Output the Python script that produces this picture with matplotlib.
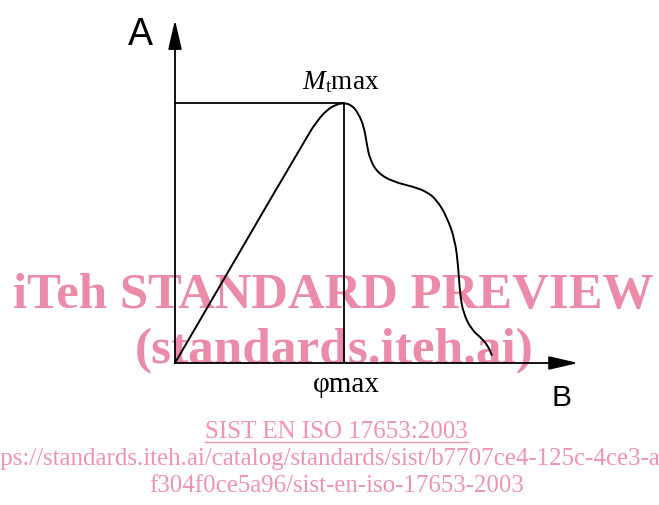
import matplotlib
matplotlib.use("Agg")
import matplotlib.pyplot as plt
from matplotlib.path import Path
from matplotlib.patches import PathPatch

# ---- data (diagram units: phi_max = 1, Mt_max = 1) ----
curve_x = [0.0, 0.779, 0.838, 0.897, 0.956, 1.0, 1.046, 1.085, 1.118, 1.134, 1.154,
           1.203, 1.292, 1.410, 1.489, 1.549, 1.608, 1.657, 1.676, 1.686, 1.706,
           1.756, 1.815, 1.854, 1.874]
curve_y = [0.0, 0.870, 0.928, 0.973, 0.995, 1.0, 0.992, 0.960, 0.909, 0.845, 0.781,
           0.729, 0.697, 0.678, 0.659, 0.627, 0.563, 0.473, 0.371, 0.268, 0.191,
           0.127, 0.095, 0.063, 0.031]
phi_max = 1.0
mt_max = 1.0
x_axis_end = 2.385
y_axis_end = 1.319

label_y = "A"
label_x = "B"
label_peak = r"$M_{\mathrm{t}}$max"
label_phi = "\u03c6max"
wm_title = "iTeh STANDARD PREVIEW"
wm_site = "(standards.iteh.ai)"
wm_std = "SIST EN ISO 17653:2003"
wm_url1 = "https://standards.iteh.ai/catalog/standards/sist/b7707ce4-125c-4ce3-aa"
wm_url2 = "f304f0ce5a96/sist-en-iso-17653-2003"

plt.rcParams["mathtext.fontset"] = "custom"
plt.rcParams["mathtext.rm"] = "Liberation Serif"
plt.rcParams["mathtext.it"] = "Liberation Serif:italic"

W, H = 659, 505
fig = plt.figure(figsize=(W / 100, H / 100), dpi=100)
ax = fig.add_axes([0, 0, 1, 1])
ox, oy, ux, uy = 175, 363, 169.0, 260.0
ax.set_xlim(-ox / ux, (W - ox) / ux)
ax.set_ylim(-(H - oy) / uy, oy / uy)
ax.axis("off")
renderer = fig.canvas.get_renderer()


def X(px):
    return (px - ox) / ux


def Y(py):
    return (oy - py) / uy


def fit_text(s, left, right, base, **kw):
    t = ax.text(X(left), Y(base), s, ha="left", va="baseline", **kw)
    bb = t.get_window_extent(renderer)
    t.set_fontsize(t.get_fontsize() * (right - left) / bb.width)
    return t


pink = "#EC8BA8"
pink2 = "#EF93B0"

# watermark
fit_text(wm_title, 13, 653, 308, family="Liberation Serif", weight="bold",
         color=pink, fontsize=38, zorder=1)
fit_text(wm_site, 135, 534, 363, family="Liberation Serif", weight="bold",
         color=pink, fontsize=38, zorder=1)
fit_text(wm_std, 205, 468, 438, family="Liberation Serif", color=pink2,
         fontsize=18, zorder=1)
ax.plot([X(205), X(468)], [Y(442), Y(442)], color=pink2, lw=1.0, zorder=1)
t5 = fit_text(wm_url2, 149, 523, 492, family="Liberation Serif", color=pink2,
              fontsize=18, zorder=1)
fs = t5.get_fontsize()
tmp = ax.text(0, 0, "htt", family="Liberation Serif", fontsize=fs)
wpx = tmp.get_window_extent(renderer).width
tmp.remove()
ax.text(X(-wpx + 1), Y(465), wm_url1, ha="left", va="baseline",
        family="Liberation Serif", color=pink2, fontsize=fs, zorder=1)

# axes with arrows
arrow_kw = dict(arrowstyle="-|>,head_length=1.8,head_width=0.42",
                mutation_scale=10, lw=1.3, color="black", shrinkA=0, shrinkB=0)
ax.annotate("", xy=(0, y_axis_end), xytext=(0, 0), arrowprops=arrow_kw, zorder=3)
ax.annotate("", xy=(x_axis_end, 0), xytext=(0, 0), arrowprops=arrow_kw, zorder=3)

# guide lines
ax.plot([0, phi_max], [mt_max, mt_max], color="black", lw=1.3, zorder=3)
ax.plot([phi_max, phi_max], [mt_max, 0], color="black", lw=1.3, zorder=3)

# curve: smooth quadratic path using the read points as control points
pts = list(zip(curve_x, curve_y))
verts = [pts[0]]
codes = [Path.MOVETO]
for i in range(1, len(pts) - 1):
    nxt = pts[i + 1]
    mid = ((pts[i][0] + nxt[0]) / 2, (pts[i][1] + nxt[1]) / 2)
    verts += [pts[i], mid]
    codes += [Path.CURVE3, Path.CURVE3]
verts.append(pts[-1])
codes.append(Path.LINETO)
ax.add_patch(PathPatch(Path(verts, codes), facecolor="none", edgecolor="black",
                       lw=1.4, zorder=4, capstyle="round", joinstyle="round"))

# labels
fit_text(label_y, 128, 153, 45, family="Liberation Sans", color="black",
         fontsize=25, zorder=5)
fit_text(label_x, 552, 572, 406, family="Liberation Sans", color="black",
         fontsize=25, zorder=5)
fit_text(label_peak, 302, 380, 89, family="Liberation Serif", color="black",
         fontsize=17, zorder=5)
fit_text(label_phi, 313, 380, 392, family="Liberation Serif", color="black",
         fontsize=17, zorder=5)

fig.savefig("out.png", dpi=100)
